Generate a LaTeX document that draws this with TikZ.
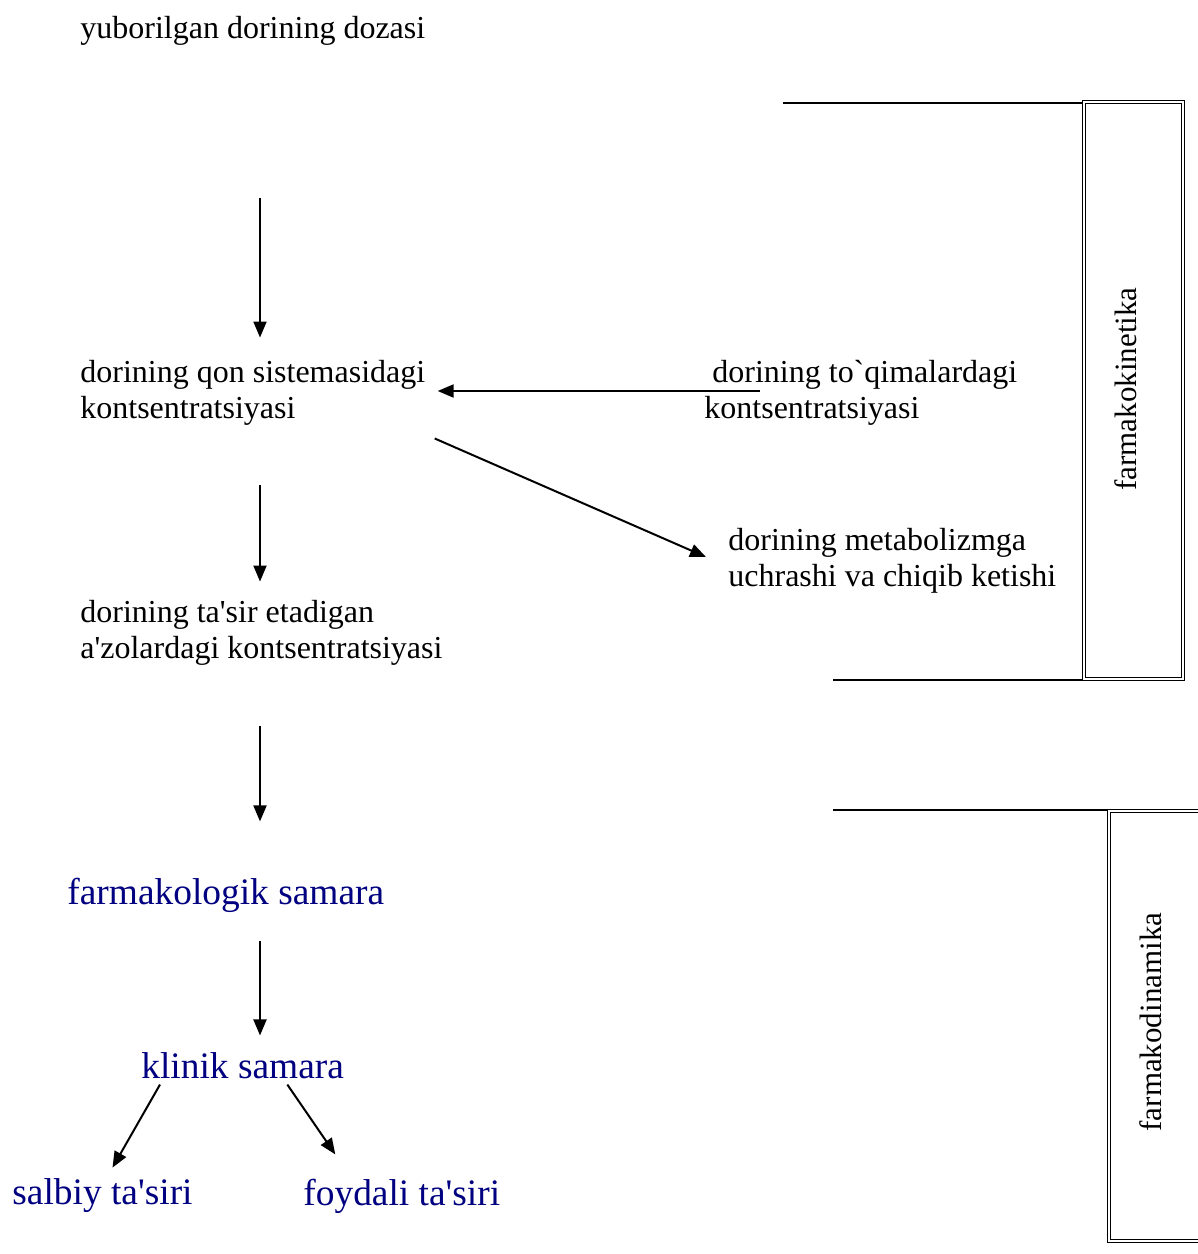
\documentclass[tikz,border=0pt]{standalone}
\usepackage{fontspec}
\setmainfont{Liberation Serif}
\usepackage{xcolor}
\usepackage{tikz}
\usetikzlibrary{arrows.meta,positioning,calc}

\definecolor{samarablue}{RGB}{0,0,128}

\begin{document}
\begin{tikzpicture}[x=0.5pt,y=-0.5pt,
  txt/.style={anchor=west, align=left, inner sep=0pt, font=\fontsize{16}{18}\selectfont},
  bluetxt/.style={anchor=west, inner sep=0pt, text=samarablue, font=\fontsize{18.7}{21}\selectfont},
  arr/.style={-{Triangle[length=8pt,width=6.5pt]}, line width=1pt},
  sidebox/.style={double, double distance=1.2pt, line width=0.5pt},
  sidelabel/.style={rotate=90, inner sep=0pt, font=\fontsize{15.5}{17}\selectfont}]
\useasboundingbox (0,0) rectangle (1198,1254);

% Text blocks
\coordinate (axis) at (260,0);
\node[txt] (dose) at (80,31) {yuborilgan dorining dozasi};
\node[txt] (blood) at (80,393) {dorining qon sistemasidagi\\kontsentratsiyasi};
\node[txt] (tissue) at (704,393) {\hspace*{4pt}dorining to\textasciigrave qimalardagi\\kontsentratsiyasi};
\node[txt] (metab) at (728,561) {dorining metabolizmga\\uchrashi va chiqib ketishi};
\node[txt] (organ) at (80,633) {dorining ta\textquotesingle sir etadigan\\a\textquotesingle zolardagi kontsentratsiyasi};
\node[bluetxt] (pharm) at (67,895) {farmakologik samara};
\node[bluetxt] (clinic) at (141,1066) {klinik samara};
\node[bluetxt] (neg) at (12,1196) {salbiy ta\textquotesingle siri};
\node[bluetxt] (pos) at (303,1196) {foydali ta\textquotesingle siri};

% Arrows
\draw[arr, shorten <=76.25pt, shorten >=11.25pt] (dose.south -| axis) -- (blood.north -| axis);
\draw[arr] ($(tissue.west)+(56,-2)$) -- ($(blood.east)+(12,-2)$);
\draw[arr] ($(blood.south east)+(9,12.5)$) -- ($(metab.west)+(-22,-4)$);
\draw[arr, shorten <=29.75pt, shorten >=9.25pt] (blood.south -| axis) -- (organ.north -| axis);
\draw[arr, shorten <=30.25pt, shorten >=28pt] (organ.south -| axis) -- (pharm.north -| axis);
\draw[arr, shorten <=14pt, shorten >=8.5pt] (pharm.south -| axis) -- (clinic.north -| axis);
\draw[arr] ($(clinic.south west)+(19,5)$) -- ($(neg.north)+(10,-11)$);
\draw[arr] ($(clinic.south east)+(-57,5)$) -- ($(pos.north)+(-66.5,-24)$);

% Farmakokinetika bracket
\draw[line width=0.8pt] (783,103) -- (1158,103);
\draw[line width=0.8pt] (833,680) -- (1184,680);
\draw[sidebox] (1084,102) rectangle (1183,679);
\node[sidelabel] (kinetic) at (1126,389) {farmakokinetika};

% Farmakodinamika bracket
\draw[line width=1pt] (833,810) -- (1198,810);
\draw[sidebox] (1109,811) rectangle (1210,1241);
\node[sidelabel] (dynamic) at (1151,1022) {farmakodinamika};
\end{tikzpicture}
\end{document}
